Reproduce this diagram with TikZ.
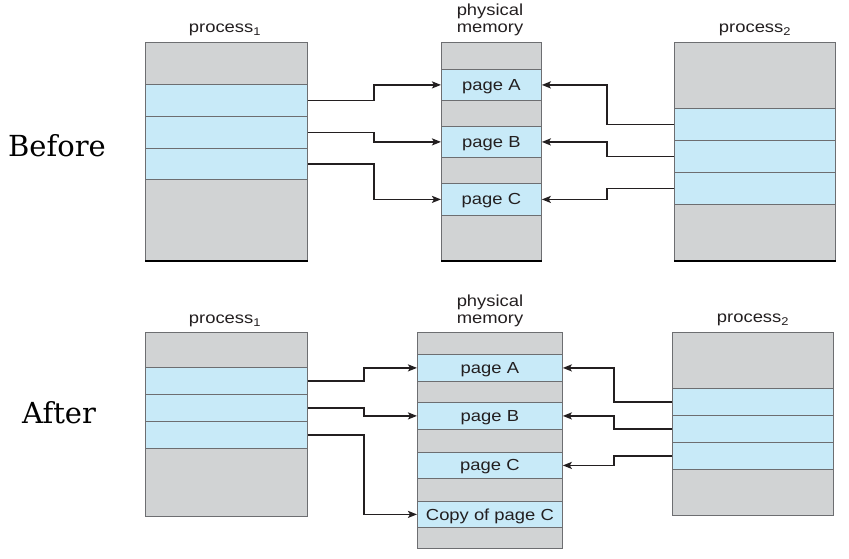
\documentclass[tikz,border=0pt]{standalone}
\usepackage{fontspec}
\setmainfont{DejaVu Serif}
\newfontfamily\boxfont[FakeStretch=1.15]{Liberation Sans}
\usetikzlibrary{arrows.meta,calc,positioning}
\definecolor{memgray}{HTML}{D1D3D4}
\definecolor{pageblue}{HTML}{C8EAF8}
\definecolor{rim}{HTML}{6D6E71}
\definecolor{ink}{HTML}{231F20}

\begin{document}
\begin{tikzpicture}[x=1pt,y=-1pt,->,>={Stealth[length=9pt,width=7pt,inset=2pt]},line width=1.8pt,draw=ink]
\tikzstyle{mem}=[draw=rim,fill=memgray,line width=0.8pt,anchor=north west,inner sep=0pt,
  text depth=0pt,text=ink,font=\boxfont\fontsize{16}{18}\selectfont]
\tikzstyle{pg}=[mem,fill=pageblue]
\tikzstyle{title}=[text=ink,align=center,font=\boxfont\fontsize{16}{17}\selectfont]
\tikzstyle{phase}=[text=black,font=\fontsize{29}{32}\selectfont]
\tikzstyle{bottomedge}=[-,line width=1.8pt,draw=black]
\useasboundingbox (0,0) rectangle (849,558);

% ---- before ----
\node[phase] (before) at (57,146) {Before};
\node[title] (t1) at (225,30) {process\textsubscript{1}};
\node[title] (tm) at (490,20) {physical\\memory};
\node[title] (t2) at (755,30) {process\textsubscript{2}};

\node[mem,minimum width=162,minimum height=218] (pA) at (145,42) {};
\node[pg,minimum width=162,minimum height=32] (pAa) at (145,84) {};
\node[pg,minimum width=162,minimum height=32] (pAb) at (145,116) {};
\node[pg,minimum width=162,minimum height=31] (pAc) at (145,148) {};

\node[mem,minimum width=100,minimum height=218] (mA) at (441,42) {};
\node[pg,minimum width=100,minimum height=31] (mAa) at (441,69) {page A};
\node[pg,minimum width=100,minimum height=31] (mAb) at (441,126) {page B};
\node[pg,minimum width=100,minimum height=32] (mAc) at (441,183) {page C};

\node[mem,minimum width=161,minimum height=218] (qA) at (674,42) {};
\node[pg,minimum width=161,minimum height=32] (qAa) at (674,108) {};
\node[pg,minimum width=161,minimum height=32] (qAb) at (674,140) {};
\node[pg,minimum width=161,minimum height=32] (qAc) at (674,172) {};

\draw[bottomedge] (pA.south west) -- (pA.south east);
\draw[bottomedge] (mA.south west) -- (mA.south east);
\draw[bottomedge] (qA.south west) -- (qA.south east);

\draw (pAa.east) -- ++(66,0) |- (mAa.west);
\draw (pAb.east) -- ++(66,0) |- (mAb.west);
\draw (pAc.east) -- ++(66,0) |- (mAc.west);
\draw (qAa.west) -- ++(-67,0) |- (mAa.east);
\draw (qAb.west) -- ++(-67,0) |- (mAb.east);
\draw (qAc.west) -- ++(-67,0) |- (mAc.east);

% ---- after ----
\node[phase] (after) at (59,413) {After};
\node[title] (u1) at (225,321) {process\textsubscript{1}};
\node[title] (um) at (490,311) {physical\\memory};
\node[title] (u2) at (753,320) {process\textsubscript{2}};

\node[mem,minimum width=162,minimum height=184] (pB) at (145,332) {};
\node[pg,minimum width=162,minimum height=27] (pBa) at (145,367) {};
\node[pg,minimum width=162,minimum height=27] (pBb) at (145,394) {};
\node[pg,minimum width=162,minimum height=27] (pBc) at (145,421) {};

\node[mem,minimum width=145,minimum height=216] (mB) at (417,332) {};
\node[pg,minimum width=145,minimum height=27] (mBa) at (417,354) {page A};
\node[pg,minimum width=145,minimum height=27] (mBb) at (417,402) {page B};
\node[pg,minimum width=145,minimum height=26] (mBc) at (417,452) {page C};
\node[pg,minimum width=145,minimum height=26] (mBd) at (417,501) {Copy of page C};

\node[mem,minimum width=161,minimum height=183] (qB) at (672,332) {};
\node[pg,minimum width=161,minimum height=27] (qBa) at (672,388) {};
\node[pg,minimum width=161,minimum height=27] (qBb) at (672,415) {};
\node[pg,minimum width=161,minimum height=27] (qBc) at (672,442) {};

\draw (pBa.east) -- ++(56,0) |- (mBa.west);
\draw (pBb.east) -- ++(56,0) |- (mBb.west);
\draw (pBc.east) -- ++(56,0) |- (mBd.west);
\draw (qBa.west) -- ++(-58,0) |- (mBa.east);
\draw (qBb.west) -- ++(-58,0) |- (mBb.east);
\draw (qBc.west) -- ++(-58,0) |- (mBc.east);

\end{tikzpicture}
\end{document}
